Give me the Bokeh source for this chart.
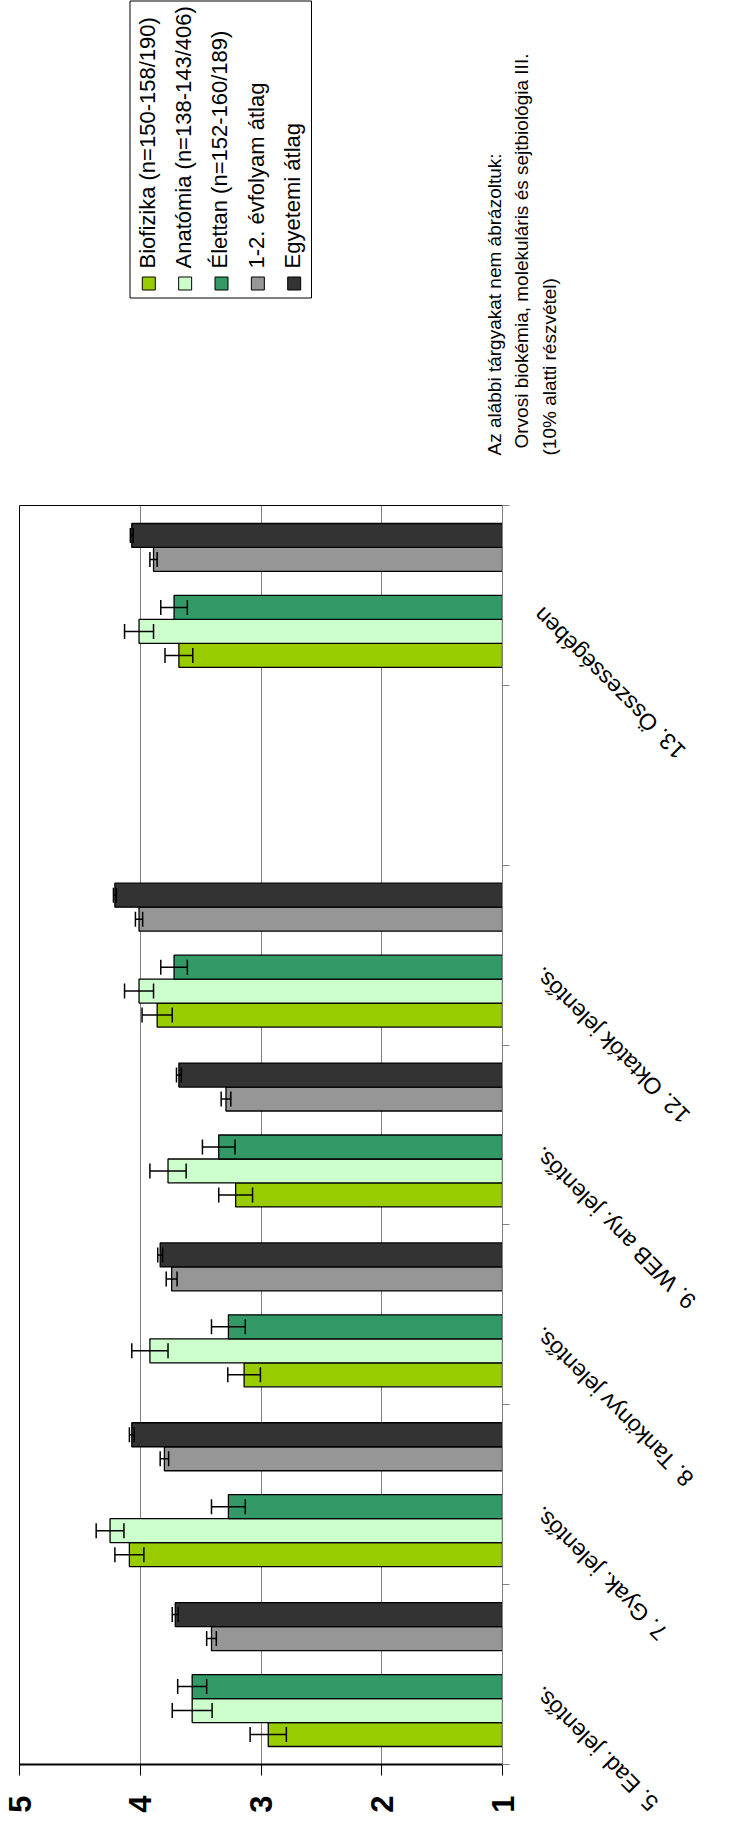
import math
from bokeh.plotting import figure
from bokeh.models import Range1d, FixedTicker, ColumnDataSource, Whisker, TeeHead
from bokeh.embed import file_html
from bokeh.resources import INLINE
from bokeh.core.properties import value

# ---------------- data ----------------
categories = ["5. Ead. jelentős.", "7. Gyak. jelentős.", "8. Tankönyv jelentős.",
              "9. WEB any. jelentős.", "12. Oktatók jelentős.", "", "13. Összességében"]

series_names = ["Biofizika (n=150-158/190)", "Anatómia (n=138-143/406)",
                "Élettan (n=152-160/189)", "1-2. évfolyam átlag", "Egyetemi átlag"]

biofizika     = [2.94, 4.09, 3.14, 3.21, 3.86, None, 3.68]
biofizika_err = [0.15, 0.12, 0.135, 0.14, 0.125, None, 0.115]
anatomia      = [3.57, 4.25, 3.92, 3.77, 4.01, None, 4.01]
anatomia_err  = [0.165, 0.115, 0.15, 0.15, 0.12, None, 0.12]
elettan       = [3.57, 3.27, 3.27, 3.35, 3.72, None, 3.72]
elettan_err   = [0.12, 0.14, 0.14, 0.135, 0.11, None, 0.11]
evfolyam      = [3.41, 3.80, 3.74, 3.29, 4.01, None, 3.89]
evfolyam_err  = [0.04, 0.035, 0.045, 0.04, 0.03, None, 0.03]
egyetemi      = [3.71, 4.07, 3.835, 3.68, 4.21, None, 4.07]
egyetemi_err  = [0.025, 0.02, 0.02, 0.02, 0.012, None, 0.012]

value_ticks = [1, 2, 3, 4, 5]

note_lines = ["Az alábbi tárgyakat nem ábrázoltuk:",
              "Orvosi biokémia, molekuláris és sejtbiológia III.",
              "(10% alatti részvétel)"]

colors = ["#99CC00", "#CCFFCC", "#339966", "#969696", "#333333"]
slots = [0, 1, 2, 4, 5]          # slot of each series inside a category (slot 3 stays empty)
FONT = value("Liberation Sans")

# ---------------- layout constants (figure pixels) ----------------
W, H = 717, 1831
F_LEFT, F_RIGHT, F_TOP, F_BOTTOM = 19, 502, 505, 1764
X0, X1 = 5, 1
Y0, Y1 = 0, len(categories)
ppx = (F_RIGHT - F_LEFT) / (X0 - X1)
ppy = (F_BOTTOM - F_TOP) / (Y1 - Y0)


def dx(px):   # figure pixel -> data x
    return X0 - (px - F_LEFT) / ppx


def dy(py):   # figure pixel -> data y
    return Y0 + (F_BOTTOM - py) / ppy


p = figure(width=W, height=H, x_range=Range1d(X0, X1), y_range=Range1d(Y0, Y1),
           output_backend="svg", toolbar_location=None,
           x_axis_location="below", y_axis_location="right",
           min_border_left=F_LEFT, min_border_right=W - F_RIGHT,
           min_border_top=F_TOP, min_border_bottom=H - F_BOTTOM)
p.outline_line_color = "black"
p.outline_line_width = 1

# ---------------- bars + error bars ----------------
slot_w = 0.8 / 6
series_vals = [biofizika, anatomia, elettan, evfolyam, egyetemi]
series_errs = [biofizika_err, anatomia_err, elettan_err, evfolyam_err, egyetemi_err]

for vals, errs, col, slot in zip(series_vals, series_errs, colors, slots):
    ys, vs, lo, hi = [], [], [], []
    for i, (v, e) in enumerate(zip(vals, errs)):
        if v is None:
            continue
        ys.append(i + 0.1 + (slot + 0.5) * slot_w)
        vs.append(v)
        lo.append(v - e)
        hi.append(v + e)
    src = ColumnDataSource(dict(y=ys, v=vs, lo=lo, hi=hi))
    p.hbar(y="y", left=1, right="v", height=slot_w, source=src,
           fill_color=col, line_color="black", line_width=1.3)
    w = Whisker(source=src, base="y", lower="lo", upper="hi", dimension="width",
                line_color="black", line_width=1.5, level="annotation",
                upper_head=TeeHead(size=15, line_color="black", line_width=1.5),
                lower_head=TeeHead(size=15, line_color="black", line_width=1.5))
    p.add_layout(w)

# ---------------- value axis (bottom) ----------------
xa = p.xaxis[0]
xa.ticker = FixedTicker(ticks=value_ticks)
xa.major_label_orientation = math.pi / 2
xa.major_label_text_font = "Liberation Sans"
xa.major_label_text_font_style = "bold"
xa.major_label_text_font_size = "31px"
xa.major_label_text_color = "black"
xa.major_label_standoff = 20
xa.axis_line_width = 2
xa.axis_line_color = "black"
xa.major_tick_out = 11
xa.major_tick_in = 0
xa.minor_tick_out = 0
xa.minor_tick_in = 0
xa.major_tick_line_color = "black"

# ---------------- category axis (right): ticks at category boundaries ----------------
ya = p.yaxis[0]
ya.ticker = FixedTicker(ticks=list(range(len(categories) + 1)))
ya.major_label_overrides = {i: " " for i in range(len(categories) + 1)}
ya.major_label_text_font_size = "1px"
ya.major_tick_out = 7
ya.major_tick_in = 0
ya.minor_tick_out = 0
ya.minor_tick_in = 0
ya.axis_line_color = "#808080"
ya.major_tick_line_color = "#808080"

p.xgrid.ticker = FixedTicker(ticks=[2, 3, 4])
p.xgrid.grid_line_color = "#808080"
p.xgrid.grid_line_width = 1
p.ygrid.visible = False

# ---------------- rotated category labels (outside the frame) ----------------
lab_src = ColumnDataSource(dict(
    x=[dx(F_RIGHT + 35)] * len(categories),
    y=[i + 0.5 - 16 / ppy for i in range(len(categories))],
    text=categories))
p.text(x="x", y="y", text="text", source=lab_src, angle=3 * math.pi / 4,
       text_align="right", text_baseline="middle", text_font=FONT,
       text_font_size="23px", text_color="black", level="overlay")

# ---------------- legend (drawn above the frame) ----------------
p.quad(left=dx(129.5), right=dx(311), top=dy(0.5), bottom=dy(297.5),
       fill_color="white", line_color="black", line_width=1, level="overlay")
leg_sq_x = [dx(148.3 + 36.35 * i) for i in range(len(series_names))]
leg_tx_x = [dx(146.7 + 36.35 * i) for i in range(len(series_names))]
p.rect(x=leg_sq_x, y=dy(283), width=13, height=13, width_units="screen",
       height_units="screen", fill_color=colors, line_color="black",
       line_width=1, level="overlay")
p.text(x=leg_tx_x, y=dy(268), text=series_names, angle=math.pi / 2,
       text_align="left", text_baseline="middle", text_font=FONT,
       text_font_size="22px", text_color="black", level="overlay")

# ---------------- note ----------------
p.text(x=[dx(494), dx(521.3), dx(549)], y=[dy(455), dy(448), dy(455)], text=note_lines,
       angle=math.pi / 2, text_align="left", text_baseline="middle", text_font=FONT,
       text_font_size="19px", text_color="black", level="overlay")

open("out.html", "w").write(file_html(p, INLINE))
